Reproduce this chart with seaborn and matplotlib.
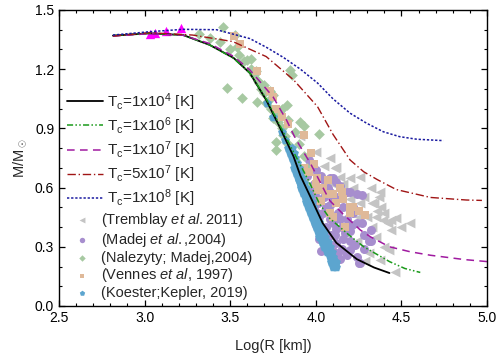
import numpy as np
import pandas as pd
import matplotlib
matplotlib.use('Agg')
import matplotlib.pyplot as plt
import seaborn as sns

# model curves (Log R [km], M/Msun)
logr_1e4 = [2.815, 3.03, 3.225, 3.38, 3.52, 3.615, 3.71, 3.79, 3.87, 3.91, 3.97, 4.04, 4.12, 4.24, 4.34, 4.43]
m_1e4 = [1.370, 1.382, 1.373, 1.323, 1.257, 1.18, 1.044, 0.905, 0.757, 0.66, 0.55, 0.42, 0.32, 0.237, 0.195, 0.167]

logr_1e6 = [2.815, 3.03, 3.225, 3.38, 3.52, 3.615, 3.71, 3.79, 3.87, 3.955, 4.02, 4.08, 4.20, 4.28, 4.43, 4.52, 4.61]
m_1e6 = [1.370, 1.382, 1.373, 1.323, 1.255, 1.18, 1.05, 0.915, 0.78, 0.64, 0.52, 0.445, 0.355, 0.30, 0.225, 0.19, 0.17]

logr_1e7 = [2.815, 3.03, 3.225, 3.38, 3.52, 3.615, 3.75, 3.83, 3.88, 3.97, 4.03, 4.08, 4.16, 4.26, 4.32, 4.43, 4.55, 4.67, 4.87, 5.0]
m_1e7 = [1.368, 1.38, 1.372, 1.33, 1.265, 1.196, 1.06, 0.94, 0.85, 0.72, 0.62, 0.535, 0.465, 0.385, 0.35, 0.30, 0.275, 0.257, 0.235, 0.225]

logr_5e7 = [2.815, 3.03, 3.28, 3.515, 3.71, 3.87, 4.01, 4.10, 4.20, 4.28, 4.36, 4.47, 4.67, 4.88, 4.97]
m_5e7 = [1.368, 1.385, 1.373, 1.34, 1.264, 1.146, 1.01, 0.87, 0.74, 0.68, 0.64, 0.59, 0.55, 0.537, 0.535]

logr_1e8 = [2.815, 3.03, 3.225, 3.42, 3.615, 3.713, 3.81, 3.91, 4.01, 4.10, 4.20, 4.297, 4.394, 4.49, 4.59, 4.745]
m_1e8 = [1.373, 1.39, 1.402, 1.40, 1.355, 1.31, 1.26, 1.20, 1.13, 1.05, 0.977, 0.926, 0.883, 0.858, 0.845, 0.838]

# observed white dwarfs
tri_logr = [3.03, 3.06, 3.125, 3.21]
tri_m = [1.38, 1.382, 1.395, 1.41]

tremblay_logr = [3.91, 4.12, 4.11, 4.32, 4.375, 4.37, 4.55, 4.44, 4.47, 4.39, 4.33, 4.43, 4.375, 4.46, 4.26, 4.24,
                 4.29, 4.30, 4.35, 4.40, 4.44, 4.50, 4.28, 4.22, 4.16, 4.14, 4.05, 4.00, 4.08, 3.98, 4.20, 4.38,
                 4.34, 4.25, 4.31, 4.40, 4.35, 4.33, 4.26, 4.20, 4.14, 4.42, 4.36, 4.18, 4.10]
tremblay_m = [0.86, 0.706, 0.70, 0.60, 0.58, 0.55, 0.42, 0.385, 0.445, 0.435, 0.40, 0.284, 0.233, 0.174, 0.52, 0.33,
              0.23, 0.45, 0.45, 0.47, 0.435, 0.40, 0.55, 0.60, 0.62, 0.655, 0.71, 0.78, 0.75, 0.70, 0.54, 0.50,
              0.52, 0.45, 0.27, 0.30, 0.35, 0.52, 0.655, 0.65, 0.56, 0.42, 0.48, 0.49, 0.62]

madej_logr = [3.96, 3.98, 4.00, 4.03, 4.08, 4.10, 4.12, 4.20, 4.24, 4.27, 4.18, 4.08, 4.14, 4.22, 4.24, 4.32, 4.31,
              4.06, 4.08, 4.12, 4.16, 4.04, 4.06, 4.18, 4.24, 4.12, 4.20, 4.26, 4.32, 4.18, 4.27, 4.28, 4.25, 4.20,
              4.10, 4.005, 4.14, 4.22, 4.00, 4.02, 4.05, 3.99, 3.97, 4.00, 4.02, 4.10, 4.14, 4.16, 4.13, 4.18, 4.09,
              4.15, 4.20, 3.95, 3.99, 4.02, 4.06, 4.10, 4.28, 4.23, 4.12, 4.07, 4.04, 4.08, 4.11, 4.15, 4.03, 4.07,
              4.13, 4.17, 4.21, 4.01, 4.05]
madej_m = [0.74, 0.72, 0.69, 0.66, 0.65, 0.65, 0.63, 0.58, 0.57, 0.56, 0.58, 0.58, 0.61, 0.50, 0.42, 0.385, 0.33,
           0.50, 0.44, 0.39, 0.34, 0.37, 0.30, 0.27, 0.25, 0.32, 0.285, 0.22, 0.33, 0.26, 0.42, 0.36, 0.22, 0.38,
           0.54, 0.47, 0.44, 0.47, 0.55, 0.60, 0.55, 0.62, 0.58, 0.41, 0.34, 0.28, 0.24, 0.50, 0.47, 0.44, 0.36,
           0.29, 0.33, 0.66, 0.50, 0.45, 0.40, 0.42, 0.29, 0.31, 0.55, 0.60, 0.47, 0.51, 0.36, 0.40, 0.28, 0.35,
           0.27, 0.37, 0.41, 0.52, 0.64]

nalezyty_logr = [3.46, 3.53, 3.54, 3.60, 3.48, 3.57, 3.655, 3.71, 3.75, 3.77, 3.77, 3.85, 3.86, 3.91, 3.93, 4.02,
                 3.32, 3.38, 3.44, 3.50, 3.55, 3.58, 3.62, 3.64, 3.66, 3.68, 3.70, 3.72, 3.74, 3.76, 3.78, 3.80,
                 3.82, 3.84, 3.86, 3.88, 3.90, 3.92, 3.94, 3.65, 3.70, 3.75, 3.80, 3.84, 3.88, 3.90, 3.93, 3.95,
                 3.81, 3.83, 3.67, 3.73, 3.79, 3.62]
nalezyty_m = [1.415, 1.373, 1.314, 1.247, 1.103, 1.053, 1.035, 1.03, 0.953, 0.833, 0.79, 1.196, 1.17, 0.934, 0.91, 0.87,
              1.38, 1.36, 1.34, 1.30, 1.27, 1.24, 1.20, 1.17, 1.14, 1.10, 1.08, 1.04, 1.00, 0.97, 0.93, 0.90,
              0.86, 0.82, 0.78, 0.74, 0.70, 0.66, 0.62, 1.19, 1.12, 1.07, 1.00, 0.94, 0.88, 0.82, 0.76, 0.70,
              0.867, 1.02, 1.13, 1.09, 0.98, 1.25]

vennes_logr = [3.52, 3.555, 3.655, 3.73, 3.75, 3.77, 3.80, 3.84, 3.93, 3.97, 3.93, 3.96, 4.005, 3.99, 4.06, 4.14,
               4.16, 4.20, 4.08, 4.01, 4.04, 4.10, 4.15, 4.20, 4.29, 4.17, 4.10, 4.22, 4.12, 4.03, 4.00, 4.07, 4.25]
vennes_m = [1.37, 1.33, 1.19, 1.09, 1.06, 1.00, 0.96, 0.92, 0.867, 0.775, 0.70, 0.68, 0.65, 0.72, 0.57, 0.60,
            0.54, 0.50, 0.47, 0.59, 0.60, 0.57, 0.58, 0.47, 0.46, 0.40, 0.45, 0.50, 0.52, 0.53, 0.62, 0.64, 0.48]

koester_logr = [3.713, 3.75, 3.80, 3.82,
                3.84, 3.86, 3.85, 3.87, 3.86, 3.88, 3.87, 3.89, 3.875, 3.90, 3.885, 3.91, 3.895, 3.92, 3.905, 3.93,
                3.915, 3.945, 3.925, 3.955, 3.935, 3.965, 3.945, 3.975, 3.955, 3.985, 3.965, 3.995, 3.975, 4.005,
                3.99, 4.02, 4.00, 4.03, 4.01, 4.045, 4.02, 4.055, 4.035, 4.07, 4.05, 4.08, 4.065, 4.095, 4.08, 4.10,
                4.09, 4.115, 4.10, 4.12,
                3.855, 3.87, 3.885, 3.90, 3.915, 3.93, 3.94, 3.95, 3.96, 3.97, 3.98, 3.99, 4.005, 4.015, 4.03,
                4.04, 4.055, 4.07, 4.085, 4.10, 4.11]
koester_m = [1.027, 0.96, 0.88, 0.84,
             0.80, 0.80, 0.775, 0.775, 0.75, 0.75, 0.725, 0.725, 0.70, 0.70, 0.675, 0.675, 0.65, 0.65, 0.625, 0.625,
             0.60, 0.60, 0.575, 0.575, 0.55, 0.55, 0.525, 0.525, 0.50, 0.50, 0.475, 0.475, 0.45, 0.45,
             0.425, 0.425, 0.40, 0.40, 0.375, 0.375, 0.35, 0.35, 0.325, 0.325, 0.30, 0.30, 0.275, 0.275, 0.25, 0.25,
             0.225, 0.225, 0.20, 0.20,
             0.79, 0.74, 0.69, 0.64, 0.61, 0.59, 0.56, 0.54, 0.51, 0.49, 0.46, 0.44, 0.41, 0.39, 0.36,
             0.34, 0.31, 0.29, 0.26, 0.24, 0.21]

sns.set_style('ticks')
plt.rcParams['font.family'] = ['Liberation Sans', 'DejaVu Sans']
plt.rcParams['mathtext.fontset'] = 'custom'
plt.rcParams['mathtext.rm'] = 'Liberation Sans'
plt.rcParams['mathtext.it'] = 'Liberation Sans:italic'
plt.rcParams['xtick.direction'] = 'in'
plt.rcParams['ytick.direction'] = 'in'

fig = plt.figure(figsize=(4.98, 3.57), dpi=100)
ax = fig.add_axes([0.1185, 0.1429, 0.8595, 0.8291])

pts = dict(linewidth=0, ax=ax)
sns.scatterplot(x=tremblay_logr, y=tremblay_m, marker='<', s=50, color='#c4c4c4',
                label=r'(Tremblay $\mathit{et\ al.}$2011)', **pts)
sns.scatterplot(x=madej_logr, y=madej_m, marker='o', s=42, color='#a78ece',
                label=r'(Madej $\mathit{et\ al.}$,2004)', **pts)
sns.scatterplot(x=nalezyty_logr, y=nalezyty_m, marker='D', s=30, color='#a7c9a2',
                label='(Nalezyty; Madej,2004)', **pts)
sns.scatterplot(x=vennes_logr, y=vennes_m, marker='s', s=32, color='#dfb999',
                label=r'(Vennes $\mathit{et\ al}$, 1997)', **pts)
sns.scatterplot(x=koester_logr, y=koester_m, marker='p', s=45, color='#5ca5cf',
                label='(Koester;Kepler, 2019)', **pts)
sns.scatterplot(x=tri_logr, y=tri_m, marker='^', s=45, color='#ff00ff', linewidth=0, ax=ax)

crv = pd.DataFrame({'x': logr_1e4, 'y': m_1e4})
sns.lineplot(data=crv, x='x', y='y', sort=False, color='black', lw=1.3, ax=ax,
             label=r'T$_\mathregular{c}$=1x10$^\mathregular{4}$ [K]')
crv = pd.DataFrame({'x': logr_1e6, 'y': m_1e6})
sns.lineplot(data=crv, x='x', y='y', sort=False, color='#1a9a1a', lw=1.1, ax=ax,
             linestyle=(0, (4, 1.5, 1, 1.5, 1, 1.5)),
             label=r'T$_\mathregular{c}$=1x10$^\mathregular{6}$ [K]')
crv = pd.DataFrame({'x': logr_1e7, 'y': m_1e7})
sns.lineplot(data=crv, x='x', y='y', sort=False, color='#a01aa0', lw=1.1, ax=ax,
             linestyle=(0, (5, 3.5)),
             label=r'T$_\mathregular{c}$=1x10$^\mathregular{7}$ [K]')
crv = pd.DataFrame({'x': logr_5e7, 'y': m_5e7})
sns.lineplot(data=crv, x='x', y='y', sort=False, color='#a01515', lw=1.0, ax=ax,
             linestyle=(0, (6, 2, 1, 2)),
             label=r'T$_\mathregular{c}$=5x10$^\mathregular{7}$ [K]')
crv = pd.DataFrame({'x': logr_1e8, 'y': m_1e8})
sns.lineplot(data=crv, x='x', y='y', sort=False, color='#1a1aa0', lw=1.1, ax=ax,
             linestyle=(0, (1.5, 1.2)),
             label=r'T$_\mathregular{c}$=1x10$^\mathregular{8}$ [K]')

handles, labels = ax.get_legend_handles_labels()
line_h = [h for h in handles if isinstance(h, matplotlib.lines.Line2D)]
line_l = [l for h, l in zip(handles, labels) if isinstance(h, matplotlib.lines.Line2D)]
pt_h = [h for h in handles if not isinstance(h, matplotlib.lines.Line2D)]
pt_l = [l for h, l in zip(handles, labels) if not isinstance(h, matplotlib.lines.Line2D)]

leg1 = ax.legend(line_h, line_l, loc='upper left', bbox_to_anchor=(0.0, 0.752), frameon=False,
                 fontsize=11, handlelength=2.4, handletextpad=0.25, labelspacing=0.17, borderpad=0)
ax.add_artist(leg1)
ax.legend(pt_h, pt_l, loc='upper left', bbox_to_anchor=(0.02, 0.345), frameon=False,
          fontsize=10.5, handlelength=1.0, handletextpad=0.8, labelspacing=0.12, borderpad=0,
          markerscale=0.6)

ax.set_xlim(2.5, 5.0)
ax.set_ylim(0.0, 1.5)
ax.set_xticks([2.5, 3.0, 3.5, 4.0, 4.5, 5.0])
ax.set_yticks([0.0, 0.3, 0.6, 0.9, 1.2, 1.5])
ax.set_xticklabels(['2.5', '3.0', '3.5', '4.0', '4.5', '5.0'])
ax.set_yticklabels(['0.0', '0.3', '0.6', '0.9', '1.2', '1.5'])
ax.set_xticks(np.arange(2.5, 5.0, 0.1), minor=True)
ax.set_yticks(np.arange(0.0, 1.5, 0.1), minor=True)
ax.tick_params(which='both', top=True, right=True, labelsize=10, colors='black')
ax.tick_params(which='major', length=4, width=0.9)
ax.tick_params(which='minor', length=2.5, width=0.8)
for sp in ax.spines.values():
    sp.set_linewidth(1.0)
    sp.set_color('black')
ax.set_xlabel('Log(R [km])', fontsize=10.5, labelpad=10)
ax.set_ylabel(r'M/M$_\odot$', fontsize=10.5, labelpad=4)

fig.savefig('out.png', dpi=100)
